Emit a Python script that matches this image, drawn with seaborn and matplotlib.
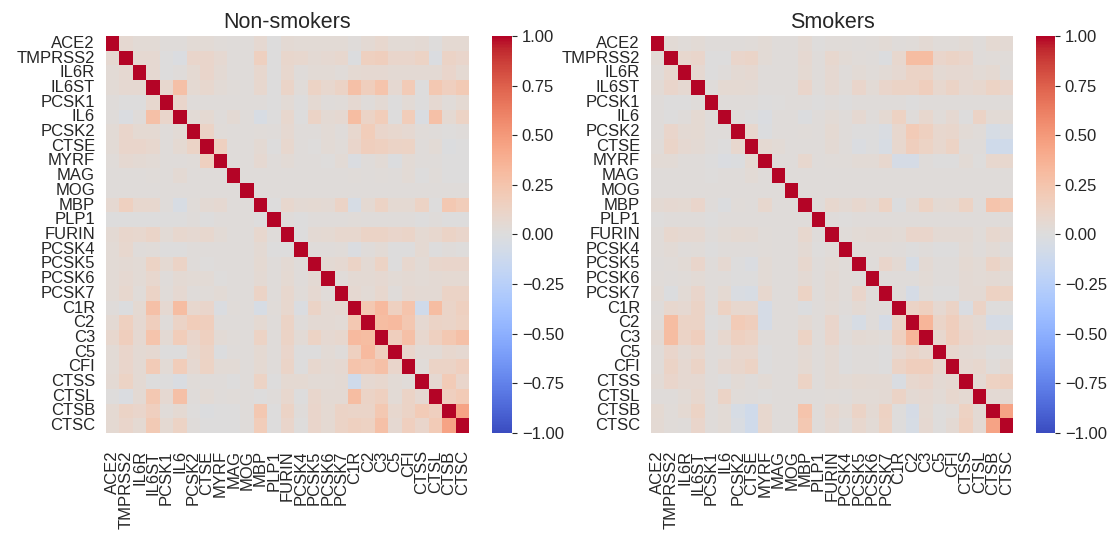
import numpy as np
import pandas as pd
import matplotlib
matplotlib.use("Agg")
import matplotlib.pyplot as plt
import seaborn as sns

genes = ['ACE2', 'TMPRSS2', 'IL6R', 'IL6ST', 'PCSK1', 'IL6', 'PCSK2', 'CTSE', 'MYRF',
         'MAG', 'MOG', 'MBP', 'PLP1', 'FURIN', 'PCSK4', 'PCSK5', 'PCSK6', 'PCSK7',
         'C1R', 'C2', 'C3', 'C5', 'CFI', 'CTSS', 'CTSL', 'CTSB', 'CTSC']

# lower triangle of the correlation matrices, row i holds columns 0..i-1 (starting at TMPRSS2)
nonsmoker_lower = [
    [0.07],
    [0.04, 0.07],
    [0.04, 0.07, 0.07],
    [0.02, 0.0, 0.0, 0.08],
    [0.02, -0.02, 0.02, 0.28, 0.1],
    [0.04, 0.1, 0.06, 0.06, 0.02, 0.04],
    [0.04, 0.1, 0.1, 0.08, 0.02, 0.06, 0.12],
    [0.03, 0.07, 0.05, 0.04, 0.02, 0.02, 0.03, 0.15],
    [0.02, 0.02, 0.02, 0.03, 0.02, 0.05, 0.02, 0.02, 0.02],
    [0.02, 0.02, 0.02, 0.02, 0.02, 0.02, 0.02, 0.02, 0.02, 0.02],
    [0.07, 0.15, 0.08, 0.08, 0.02, -0.04, 0.03, 0.05, 0.07, 0.02, 0.02],
    [0.0, 0.0, 0.0, 0.0, 0.0, 0.0, 0.02, 0.0, 0.02, 0.02, 0.02, 0.0],
    [0.05, 0.09, 0.08, 0.11, 0.04, 0.08, 0.07, 0.08, 0.04, 0.02, 0.02, 0.08, 0.02],
    [0.04, 0.08, 0.02, 0.03, 0.0, 0.0, 0.02, 0.02, 0.02, 0.02, 0.02, 0.05, 0.0, 0.0],
    [0.04, 0.05, 0.04, 0.13, 0.06, 0.12, 0.02, 0.01, 0.02, 0.02, 0.02, 0.06, 0.02, 0.05, 0.02],
    [0.04, 0.07, 0.04, 0.08, 0.02, 0.05, 0.04, 0.04, 0.01, 0.02, 0.02, 0.05, 0.02, 0.06, 0.02, 0.05],
    [0.04, 0.08, 0.03, 0.12, 0.03, 0.07, 0.02, 0.03, 0.04, 0.02, 0.02, 0.12, 0.02, 0.08, 0.03, 0.07, 0.03],
    [0.02, -0.01, 0.06, 0.28, 0.07, 0.3, 0.08, 0.1, -0.02, 0.03, 0.02, -0.05, 0.03, 0.08, -0.02, 0.12,
     0.05, 0.07],
    [0.05, 0.15, 0.07, 0.17, 0.02, 0.12, 0.18, 0.17, 0.02, 0.02, 0.02, 0.06, 0.02, 0.12, 0.02, 0.05,
     0.05, 0.04, 0.22],
    [0.08, 0.17, 0.07, 0.25, 0.05, 0.18, 0.1, 0.15, 0.04, 0.03, 0.02, 0.13, 0.02, 0.12, 0.04, 0.13,
     0.07, 0.08, 0.32, 0.3],
    [0.04, 0.1, 0.05, 0.07, 0.0, 0.0, 0.08, 0.12, -0.01, 0.02, 0.02, 0.06, 0.02, 0.1, 0.0, 0.0,
     0.04, 0.02, 0.15, 0.32, 0.17],
    [0.04, 0.1, 0.05, 0.2, 0.04, 0.18, 0.07, 0.13, 0.04, 0.04, 0.02, 0.06, 0.02, 0.11, 0.0, 0.08,
     0.05, 0.07, 0.25, 0.23, 0.28, 0.1],
    [0.05, 0.13, 0.05, 0.0, 0.0, -0.03, 0.03, 0.02, 0.02, 0.0, 0.02, 0.13, 0.0, 0.06, 0.06, 0.04,
     0.04, 0.05, -0.1, 0.07, 0.08, 0.04, 0.03],
    [0.01, -0.02, 0.05, 0.22, 0.07, 0.28, 0.02, 0.04, 0.02, 0.03, 0.02, 0.0, 0.02, 0.08, 0.0, 0.09,
     0.05, 0.05, 0.3, 0.12, 0.15, 0.04, 0.12, 0.07],
    [0.06, 0.12, 0.1, 0.16, 0.03, 0.06, 0.01, -0.01, 0.0, 0.0, 0.02, 0.22, 0.0, 0.12, 0.02, 0.1,
     0.06, 0.12, 0.11, 0.11, 0.22, 0.08, 0.12, 0.2, 0.16],
    [0.06, 0.1, 0.06, 0.21, 0.06, 0.13, 0.02, 0.0, 0.0, 0.0, 0.02, 0.18, 0.0, 0.1, 0.01, 0.1,
     0.06, 0.12, 0.15, 0.14, 0.28, 0.07, 0.16, 0.1, 0.2, 0.45],
]

smoker_lower = [
    [0.04],
    [0.03, 0.08],
    [0.04, 0.1, 0.07],
    [0.02, 0.0, 0.0, 0.02],
    [0.02, 0.0, 0.02, 0.06, 0.02],
    [0.02, 0.1, 0.05, 0.06, 0.02, 0.02],
    [0.03, 0.11, 0.07, 0.05, 0.02, 0.0, 0.08],
    [0.04, 0.04, 0.02, 0.02, 0.0, -0.02, -0.01, 0.06],
    [0.02, 0.02, 0.02, 0.02, 0.01, 0.02, 0.02, 0.04, 0.02],
    [0.02, 0.02, 0.02, 0.02, 0.02, 0.02, 0.02, 0.02, 0.02, 0.02],
    [0.05, 0.07, 0.06, 0.1, 0.02, -0.01, 0.03, 0.02, 0.08, 0.02, 0.02],
    [0.01, 0.02, 0.02, 0.02, 0.0, 0.02, 0.02, 0.02, 0.02, 0.02, 0.02, 0.02],
    [0.03, 0.08, 0.07, 0.07, 0.02, 0.04, 0.06, 0.05, 0.03, 0.02, 0.02, 0.08, 0.02],
    [0.03, 0.04, 0.02, 0.03, 0.0, 0.02, 0.02, 0.02, 0.03, 0.02, 0.02, 0.05, 0.01, 0.03],
    [0.02, 0.03, 0.04, 0.1, 0.02, 0.07, 0.0, -0.02, 0.04, 0.02, 0.02, 0.08, 0.02, 0.04, 0.03],
    [0.03, 0.02, 0.03, 0.04, 0.02, 0.02, 0.0, 0.0, 0.04, 0.02, 0.02, 0.05, 0.02, 0.05, 0.03, 0.02],
    [0.04, -0.01, 0.04, 0.1, 0.02, 0.06, -0.03, -0.04, 0.08, 0.02, 0.02, 0.13, 0.02, 0.05, 0.03, 0.1,
     0.02],
    [0.02, 0.08, 0.07, 0.12, 0.02, 0.14, 0.08, 0.08, -0.06, 0.02, 0.02, -0.01, 0.02, 0.04, 0.02, 0.05,
     0.02, 0.02],
    [0.03, 0.3, 0.12, 0.12, 0.0, 0.02, 0.2, 0.17, -0.06, 0.02, 0.02, 0.05, 0.02, 0.1, 0.0, -0.05,
     0.02, -0.06, 0.12],
    [0.05, 0.3, 0.12, 0.17, 0.02, 0.08, 0.15, 0.13, 0.02, 0.02, 0.02, 0.13, 0.02, 0.1, 0.02, 0.05,
     0.04, 0.03, 0.15, 0.35],
    [0.03, 0.1, 0.05, 0.08, 0.02, 0.03, 0.08, 0.08, 0.0, 0.02, 0.02, 0.05, 0.02, 0.05, 0.0, 0.02,
     0.02, 0.0, 0.07, 0.11, 0.08],
    [0.03, 0.12, 0.07, 0.12, 0.02, 0.07, 0.09, 0.13, 0.0, 0.02, 0.02, 0.06, 0.02, 0.05, 0.0, 0.02,
     0.02, 0.0, 0.12, 0.17, 0.17, 0.08],
    [0.04, 0.1, 0.07, 0.07, 0.02, 0.0, 0.04, 0.02, 0.04, 0.02, 0.02, 0.13, 0.02, 0.05, 0.04, 0.06,
     0.05, 0.05, -0.03, 0.08, 0.1, 0.05, 0.07],
    [0.02, 0.02, 0.04, 0.08, 0.02, 0.12, 0.03, 0.02, 0.01, 0.02, 0.02, 0.02, 0.02, 0.03, 0.02, 0.04,
     0.04, 0.05, 0.12, 0.05, 0.07, 0.04, 0.08, 0.06],
    [0.06, 0.03, 0.06, 0.13, 0.02, 0.04, -0.05, -0.1, 0.08, 0.02, 0.02, 0.25, 0.02, 0.08, 0.04, 0.12,
     0.05, 0.14, 0.01, -0.06, 0.06, 0.01, 0.03, 0.14, 0.05],
    [0.05, 0.03, 0.02, 0.1, 0.02, 0.04, -0.03, -0.1, 0.08, 0.02, 0.02, 0.22, 0.02, 0.07, 0.02, 0.08,
     0.04, 0.13, 0.01, -0.05, 0.07, 0.01, 0.05, 0.15, 0.05, 0.45],
]


def full_matrix(lower):
    m = np.eye(len(genes))
    for i, row in enumerate(lower, start=1):
        for j, v in enumerate(row):
            m[i, j] = v
            m[j, i] = v
    return pd.DataFrame(m, index=genes, columns=genes)


sns.set_style("white")
plt.rcParams['font.family'] = ['Liberation Sans', 'DejaVu Sans']

W, H = 1120, 534
fig = plt.figure(figsize=(W / 100, H / 100), dpi=100)


def box(x0, y0, x1, y1):
    return [x0 / W, 1 - y1 / H, (x1 - x0) / W, (y1 - y0) / H]


panels = [
    ('Non-smokers', nonsmoker_lower, box(106, 36, 469, 433), box(492, 36, 512, 433)),
    ('Smokers', smoker_lower, box(651, 36, 1013, 433), box(1036, 36, 1055, 433)),
]

for title, lower, hm_box, cb_box in panels:
    ax = fig.add_axes(hm_box)
    cax = fig.add_axes(cb_box)
    sns.heatmap(full_matrix(lower), ax=ax, cbar_ax=cax, cmap='coolwarm', vmin=-1, vmax=1,
                xticklabels=genes, yticklabels=genes)
    ax.set_title(title, fontsize=15.5, pad=6)
    ax.tick_params(axis='y', labelsize=12, pad=4.5)
    ax.tick_params(axis='x', labelsize=12, pad=9)
    cax.tick_params(labelsize=12)

fig.savefig('out.png', dpi=100)
